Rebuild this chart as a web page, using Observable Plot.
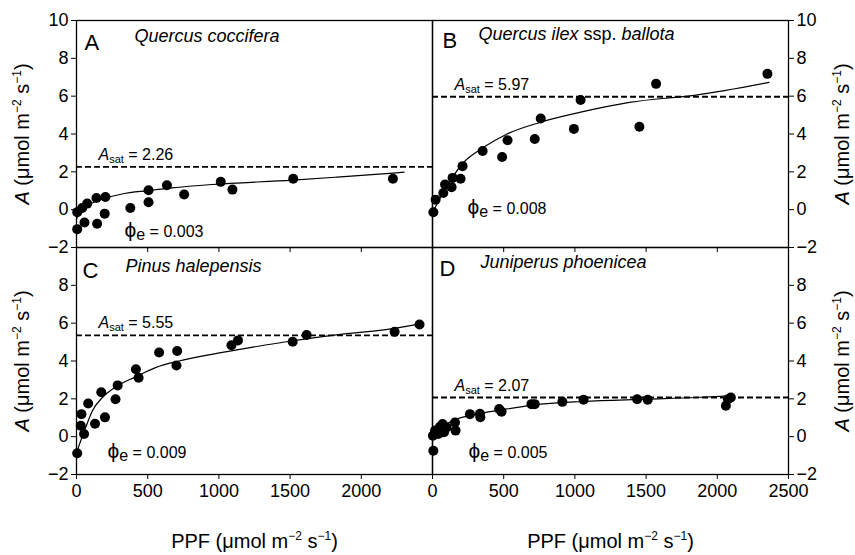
<!DOCTYPE html>
<html><head><meta charset="utf-8">
<script src="https://cdn.jsdelivr.net/npm/d3@7"></script>
<script src="https://cdn.jsdelivr.net/npm/@observablehq/plot@0.6"></script>
<style>
body{margin:0;background:#fff;}
#chart{width:855px;height:555px;}
</style></head><body><div id="chart"></div>
<script>
// ---- panel metadata ----
const panels = ["A", "B", "C", "D"];
const species = ["Quercus coccifera", "Quercus ilex ssp. ballota", "Pinus halepensis", "Juniperus phoenicea"];
const panelCol = ["L", "R", "L", "R"];
const panelRow = ["T", "T", "B", "B"];
const asatValue = ["2.26", "5.97", "5.55", "2.07"];
const asatLevel = [2.26, 5.97, 5.35, 2.07];
const phiValue = ["0.003", "0.008", "0.009", "0.005"];

// ---- measured points (PPF, A) ----
const ppfA = [5, 5, 56, 40, 75, 140, 145, 198, 203, 378, 506, 506, 635, 756, 1013, 1095, 1522, 2222];
const aA   = [-0.13, -1.03, -0.68, 0.09, 0.32, 0.62, -0.74, -0.21, 0.67, 0.09, 1.03, 0.39, 1.29, 0.8, 1.47, 1.06, 1.63, 1.63];
const ppfB = [6, 22, 76, 88, 134, 141, 197, 211, 352, 489, 527, 718, 760, 993, 1040, 1453, 1570, 2352];
const aB   = [-0.14, 0.53, 0.88, 1.33, 1.19, 1.68, 1.63, 2.3, 3.1, 2.78, 3.67, 3.74, 4.82, 4.27, 5.8, 4.38, 6.65, 7.18];
const ppfC = [5, 30, 35, 53, 82, 130, 174, 200, 274, 289, 417, 436, 580, 707, 702, 1088, 1134, 1518, 1616, 2234, 2409];
const aC   = [-0.88, 0.58, 1.19, 0.14, 1.75, 0.68, 2.35, 1.02, 1.98, 2.71, 3.56, 3.11, 4.45, 4.53, 3.76, 4.83, 5.09, 5.02, 5.37, 5.54, 5.93];
const ppfD = [6, 3, 18, 41, 53, 71, 81, 99, 158, 162, 263, 333, 336, 468, 485, 695, 718, 912, 1061, 1437, 1511, 2060, 2095, 2075];
const aD   = [-0.74, 0.05, 0.32, 0.14, 0.53, 0.67, 0.23, 0.49, 0.75, 0.32, 1.19, 1.21, 1.03, 1.46, 1.32, 1.72, 1.72, 1.84, 1.95, 1.98, 1.95, 1.63, 2.07, 1.98];

// ---- fitted curves ----
const fitPpfA = [3, 20, 60, 110, 200, 320, 510, 670, 950, 1520, 1830, 2300];
const fitA    = [-0.45, -0.1, 0.15, 0.35, 0.6, 0.83, 1.01, 1.15, 1.33, 1.56, 1.72, 1.98];
const fitPpfB = [6, 53, 123, 216, 356, 520, 753, 1033, 1383, 1850, 2363];
const fitB    = [-0.09, 0.62, 1.51, 2.48, 3.28, 3.99, 4.61, 5.14, 5.67, 6.06, 6.73];
const fitPpfC = [7, 65, 112, 182, 275, 415, 555, 720, 950, 1230, 1520, 1825, 2230, 2410];
const fitC    = [-0.7, 0.5, 1.37, 2.07, 2.63, 3.16, 3.65, 4.0, 4.35, 4.72, 5.07, 5.38, 5.72, 5.96];
const fitPpfD = [3, 30, 76, 169, 310, 473, 706, 1056, 1500, 1850, 2085];
const fitD    = [-0.1, 0.3, 0.58, 0.93, 1.19, 1.4, 1.67, 1.86, 1.98, 2.07, 2.16];

// ---- tick labels ----
const yTicks = [-2, 0, 2, 4, 6, 8];
const yTopTick = [10];
const xTicks = [0, 500, 1000, 1500, 2000];
const xLastTick = [2500];
const xInnerTicks = [500, 1000, 1500, 2000];
const yTitle = "A (μmol m-2 s-1)";
const xTitle = "PPF (μmol m-2 s-1)";

// ---- build tables ----
const ppfs = [ppfA, ppfB, ppfC, ppfD], as = [aA, aB, aC, aD];
const fitPpfs = [fitPpfA, fitPpfB, fitPpfC, fitPpfD], fits = [fitA, fitB, fitC, fitD];
const pts = [], curves = [];
panels.forEach((p, i) => {
  ppfs[i].forEach((v, j) => pts.push({panel: p, col: panelCol[i], row: panelRow[i], ppf: v, a: as[i][j]}));
  fitPpfs[i].forEach((v, j) => curves.push({panel: p, col: panelCol[i], row: panelRow[i], ppf: v, a: fits[i][j]}));
});
const info = panels.map((p, i) => ({
  panel: p, col: panelCol[i], row: panelRow[i], species: species[i],
  level: asatLevel[i], asatText: "A_sat = " + asatValue[i], phiText: "phi_e = " + phiValue[i]
}));

// per-panel text placement (offsets in px from the panel corner)
const layout = {
  A: {letter: [8, 29], sp: [58, 21], phi: [48, -11]},
  B: {letter: [10, 27], sp: [46, 19], phi: [35, -34]},
  C: {letter: [6, 30], sp: [49, 24], phi: [31, -17]},
  D: {letter: [7, 28], sp: [48, 20], phi: [36, -17]}
};

const fmt = d => (d < 0 ? "\u2212" : "") + Math.abs(d);
const axisStyle = {tickSize: 5, tickPadding: 3, fontSize: 18, label: null, tickFormat: fmt};

const marks = [
  Plot.frame({stroke: "black", strokeWidth: 1.3}),
  Plot.ruleY(info, {fx: "col", fy: "row", y: "level", stroke: "black", strokeWidth: 1.8, strokeDasharray: "6,3"}),
  Plot.line(curves, {fx: "col", fy: "row", x: "ppf", y: "a", z: "panel", curve: "monotone-x", stroke: "black", strokeWidth: 1.2}),
  Plot.dot(pts, {fx: "col", fy: "row", x: "ppf", y: "a", r: 5, fill: "black"}),
  Plot.axisY(yTicks, {anchor: "left", facetAnchor: "left", ...axisStyle}),
  Plot.axisY(yTopTick, {anchor: "left", facetAnchor: "top-left", ...axisStyle}),
  Plot.axisY(yTicks, {anchor: "right", facetAnchor: "right", ...axisStyle}),
  Plot.axisY(yTopTick, {anchor: "right", facetAnchor: "top-right", ...axisStyle}),
  Plot.axisX(xTicks, {anchor: "bottom", facetAnchor: "bottom", ...axisStyle, tickPadding: 5}),
  Plot.axisX(xLastTick, {anchor: "bottom", facetAnchor: "bottom-right", ...axisStyle, tickPadding: 5}),
  Plot.axisX(xInnerTicks, {anchor: "bottom", facetAnchor: "top", tickSize: 5, label: null, fill: "none"}),
  Plot.text([{col: "L", row: "T"}, {col: "L", row: "B"}], {fx: "col", fy: "row", frameAnchor: "left", text: () => yTitle, rotate: -90, dx: -54, textAnchor: "middle", lineAnchor: "middle", fontSize: 20}),
  Plot.text([{col: "R", row: "T"}, {col: "R", row: "B"}], {fx: "col", fy: "row", frameAnchor: "right", text: () => yTitle, rotate: -90, dx: 54, textAnchor: "middle", lineAnchor: "middle", fontSize: 20}),
  Plot.text([{col: "L", row: "B"}, {col: "R", row: "B"}], {fx: "col", fy: "row", frameAnchor: "bottom", text: () => xTitle, dy: 67, textAnchor: "middle", lineAnchor: "middle", fontSize: 20}),
  Plot.text(info, {fx: "col", fy: "row", y: "level", frameAnchor: "left", text: "asatText", textAnchor: "start", lineAnchor: "bottom", dx: 22, dy: -7, fontSize: 16})
];
info.forEach(d => {
  const L = layout[d.panel];
  marks.push(
    Plot.text([d], {fx: "col", fy: "row", frameAnchor: "top-left", text: "panel", textAnchor: "start", lineAnchor: "bottom", dx: L.letter[0], dy: L.letter[1], fontSize: 22}),
    Plot.text([d], {fx: "col", fy: "row", frameAnchor: "top-left", text: "species", textAnchor: "start", lineAnchor: "bottom", dx: L.sp[0], dy: L.sp[1], fontSize: 18, fontStyle: "italic"}),
    Plot.text([d], {fx: "col", fy: "row", frameAnchor: "bottom-left", text: "phiText", textAnchor: "start", lineAnchor: "bottom", dx: L.phi[0], dy: L.phi[1], fontSize: 16})
  );
});

const svg = Plot.plot({
  width: 855, height: 555,
  marginLeft: 76, marginRight: 67, marginTop: 20, marginBottom: 81,
  x: {domain: [0, 2500]},
  y: {domain: [-2, 10]},
  fx: {domain: ["L", "R"], padding: 0, axis: null},
  fy: {domain: ["T", "B"], padding: 0, axis: null},
  style: {fontFamily: "'Liberation Sans', Arial, Helvetica, sans-serif", fontSize: "18px", color: "black", background: "white"},
  marks
});

// ---- rich text (italics, sub/superscripts) ----
const NS = "http://www.w3.org/2000/svg";
function setParts(t, parts) {
  while (t.firstChild) t.removeChild(t.firstChild);
  for (const p of parts) {
    const s = document.createElementNS(NS, "tspan");
    s.textContent = p.t;
    if (p.it) s.setAttribute("font-style", "italic");
    if (p.up) s.setAttribute("font-style", "normal");
    if (p.fs) s.setAttribute("font-size", p.fs);
    if (p.dy) s.setAttribute("dy", p.dy);
    t.appendChild(s);
  }
}
svg.querySelectorAll("text").forEach(t => {
  const s = t.textContent;
  if (s === yTitle || s === xTitle) {
    const head = s === yTitle ? [{t: "A", it: true}, {t: " (μmol m"}] : [{t: "PPF (μmol m"}];
    setParts(t, [...head, {t: "\u22122", fs: "12px", dy: "-8"}, {t: " s", dy: "8"}, {t: "\u22121", fs: "12px", dy: "-8"}, {t: ")", dy: "8"}]);
  } else if (s.startsWith("A_sat = ")) {
    setParts(t, [{t: "A", it: true}, {t: "sat", fs: "11px", dy: "3"}, {t: " = " + s.slice(8), dy: "-3"}]);
  } else if (s.startsWith("phi_e = ")) {
    setParts(t, [{t: "\u03d5", fs: "21px"}, {t: "e", dy: "3"}, {t: " = " + s.slice(8), dy: "-3"}]);
  } else if (s === "Quercus ilex ssp. ballota") {
    setParts(t, [{t: "Quercus ilex"}, {t: " ssp. ", up: true}, {t: "ballota"}]);
  }
});
document.getElementById("chart").appendChild(svg);
</script>
</body></html>
